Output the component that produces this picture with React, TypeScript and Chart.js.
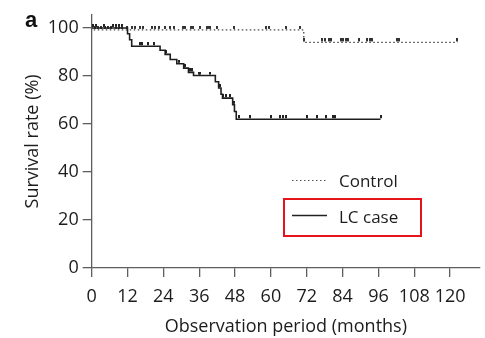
import { useEffect, useRef } from "react";
import { Chart, registerables } from "chart.js";

Chart.register(...registerables);

// Kaplan–Meier step points (months, survival %)
const LC_MONTHS = [0, 12.0, 12.7, 13.4, 22.9, 24.6, 26.3, 28.5, 30.8, 32.4, 34.1, 41.4, 42.5, 43.3, 43.8, 47.2, 47.8, 48.4, 96.7];
const LC_SURV = [100, 97.6, 95.1, 92.4, 90.7, 89.0, 86.9, 85.1, 83.3, 81.5, 80.2, 77.6, 75.0, 72.4, 70.8, 68.0, 65.2, 62.0, 62.0];

const CTRL_MONTHS = [0, 0.6, 71.0, 122.5];
const CTRL_SURV = [100, 99.2, 94.0, 94.0];

// Censored observations
const LC_CENSOR_MONTHS = [0.5, 1.5, 4, 7, 8, 9, 10, 16.2, 17, 19, 21, 24.9, 29.1, 31.3, 33, 33.7, 35.8, 36.4, 39.7, 42.9, 44, 45.1, 46.2, 47.5, 49.3, 53.1, 59.9, 63.2, 64.1, 64.9, 72.2, 75.5, 78.3, 80.8, 81.5, 96.7];
const LC_CENSOR_SURV = [100, 100, 100, 100, 100, 100, 100, 92.4, 92.4, 92.4, 92.4, 89.0, 85.1, 83.3, 81.5, 81.5, 80.2, 80.2, 80.2, 75.0, 70.8, 70.8, 70.8, 68.0, 62, 62, 62, 62, 62, 62, 62, 62, 62, 62, 62, 62];

const CTRL_CENSOR_MONTHS = [1.1, 2, 3, 4.5, 5.5, 6.5, 8, 9, 10, 11.7, 13.4, 14.5, 16.2, 17.3, 20.1, 21.2, 22.4, 24.6, 26.3, 27.6, 30.5, 31.2, 33.2, 33.9, 36.1, 38.6, 39.1, 39.7, 41.9, 47.7, 58.4, 59.3, 65.1, 69.9, 71, 77.2, 78, 79.4, 80, 83.4, 84.2, 85, 85.8, 89.5, 92.3, 93.1, 94, 102.2, 103, 122.3];
const CTRL_CENSOR_SURV = [99.2, 99.2, 99.2, 99.2, 99.2, 99.2, 99.2, 99.2, 99.2, 99.2, 99.2, 99.2, 99.2, 99.2, 99.2, 99.2, 99.2, 99.2, 99.2, 99.2, 99.2, 99.2, 99.2, 99.2, 99.2, 99.2, 99.2, 99.2, 99.2, 99.2, 99.2, 99.2, 99.2, 99.2, 94, 94, 94, 94, 94, 94, 94, 94, 94, 94, 94, 94, 94, 94, 94, 94];

const X_MIN = 0;
const X_MAX = 130;
const X_STEP = 12;
const Y_MIN = 0;
const Y_MAX = 105.5;
const Y_STEP = 20;

const PANEL_LABEL = "a";
const X_TITLE = "Observation period (months)";
const Y_TITLE = "Survival rate (%)";
const LEGEND_CONTROL = "Control";
const LEGEND_LC = "LC case";

const FONT = "'Open Sans', sans-serif";
const TEXT = "#1c1c1c";
const AXIS = "#5e5e5e";

const pts = (xs: number[], ys: number[]) => xs.map((x, i) => ({ x, y: ys[i] }));

// small tick mark sitting just above the curve
function censorMark(color: string) {
  const c = document.createElement("canvas");
  c.width = 2;
  c.height = 8;
  const g = c.getContext("2d")!;
  g.fillStyle = color;
  g.fillRect(0, 0, 2, 3);
  return c;
}

const decor = {
  id: "decor",
  afterDraw(chart: any) {
    const ctx = chart.ctx as CanvasRenderingContext2D;
    ctx.save();
    ctx.fillStyle = "#111";
    ctx.font = "bold 22px 'Liberation Sans', Arial, sans-serif";
    ctx.textBaseline = "alphabetic";
    ctx.textAlign = "left";
    ctx.fillText(PANEL_LABEL, 25, 27);

    // legend
    ctx.font = `17px ${FONT}`;
    ctx.textBaseline = "middle";
    ctx.fillStyle = TEXT;
    ctx.strokeStyle = "#555";
    ctx.lineWidth = 1.2;
    ctx.setLineDash([1.5, 2.5]);
    ctx.beginPath();
    ctx.moveTo(292, 180.5);
    ctx.lineTo(327, 180.5);
    ctx.stroke();
    ctx.fillText(LEGEND_CONTROL, 339, 182);

    ctx.setLineDash([]);
    ctx.strokeStyle = "#222";
    ctx.lineWidth = 1.3;
    ctx.beginPath();
    ctx.moveTo(292, 215.5);
    ctx.lineTo(327, 215.5);
    ctx.stroke();
    ctx.fillText(LEGEND_LC, 339, 218);

    ctx.strokeStyle = "#e5141b";
    ctx.lineWidth = 2;
    ctx.strokeRect(284, 199, 137, 37);
    ctx.restore();
  },
};

export default function App() {
  const ref = useRef<HTMLCanvasElement | null>(null);

  useEffect(() => {
    document.body.style.margin = "0";
    const canvas = ref.current!;
    const chart = new Chart(canvas, {
      type: "scatter",
      data: {
        datasets: [
          {
            label: LEGEND_CONTROL,
            data: pts(CTRL_MONTHS, CTRL_SURV),
            showLine: true,
            stepped: "before",
            borderColor: "#444",
            borderWidth: 1.3,
            borderDash: [1.5, 2.5],
            pointRadius: 0,
          },
          {
            label: LEGEND_LC,
            data: pts(LC_MONTHS, LC_SURV),
            showLine: true,
            stepped: "before",
            borderColor: "#1e1e1e",
            borderWidth: 1.6,
            pointRadius: 0,
          },
          {
            label: "Control censored",
            data: pts(CTRL_CENSOR_MONTHS, CTRL_CENSOR_SURV),
            pointStyle: censorMark("#333") as any,
            pointRadius: 3,
          },
          {
            label: "LC censored",
            data: pts(LC_CENSOR_MONTHS, LC_CENSOR_SURV),
            pointStyle: censorMark("#222") as any,
            pointRadius: 3,
          },
        ],
      },
      options: {
        responsive: false,
        animation: false,
        layout: { padding: { left: 10, right: 5, top: 7, bottom: 0 } },
        plugins: { legend: { display: false }, tooltip: { enabled: false } },
        scales: {
          x: {
            type: "linear",
            min: X_MIN,
            max: X_MAX,
            ticks: {
              stepSize: X_STEP,
              includeBounds: false,
              padding: 8.9,
              color: TEXT,
              font: { family: FONT, size: 18 },
            },
            grid: { drawOnChartArea: false, drawTicks: true, tickLength: 9, color: AXIS, lineWidth: 1.3 },
            border: { display: true, color: AXIS, width: 1.3 },
            title: {
              display: true,
              text: X_TITLE,
              color: TEXT,
              font: { family: FONT, size: 18 },
              padding: { top: 0, bottom: 0 },
            },
          },
          y: {
            type: "linear",
            min: Y_MIN,
            max: Y_MAX,
            ticks: {
              stepSize: Y_STEP,
              includeBounds: false,
              padding: 4,
              color: TEXT,
              font: { family: FONT, size: 18 },
            },
            grid: { drawOnChartArea: false, drawTicks: true, tickLength: 9, color: AXIS, lineWidth: 1.3 },
            border: { display: true, color: AXIS, width: 1.3 },
            title: {
              display: true,
              text: Y_TITLE,
              color: TEXT,
              font: { family: FONT, size: 18 },
              padding: { top: 12.2, bottom: 0 },
            },
          },
        },
      },
      plugins: [decor],
    });
    return () => chart.destroy();
  }, []);

  return (
    <div style={{ width: 485, height: 338, background: "#fff" }}>
      <canvas ref={ref} width={485} height={338} style={{ display: "block" }} />
    </div>
  );
}
